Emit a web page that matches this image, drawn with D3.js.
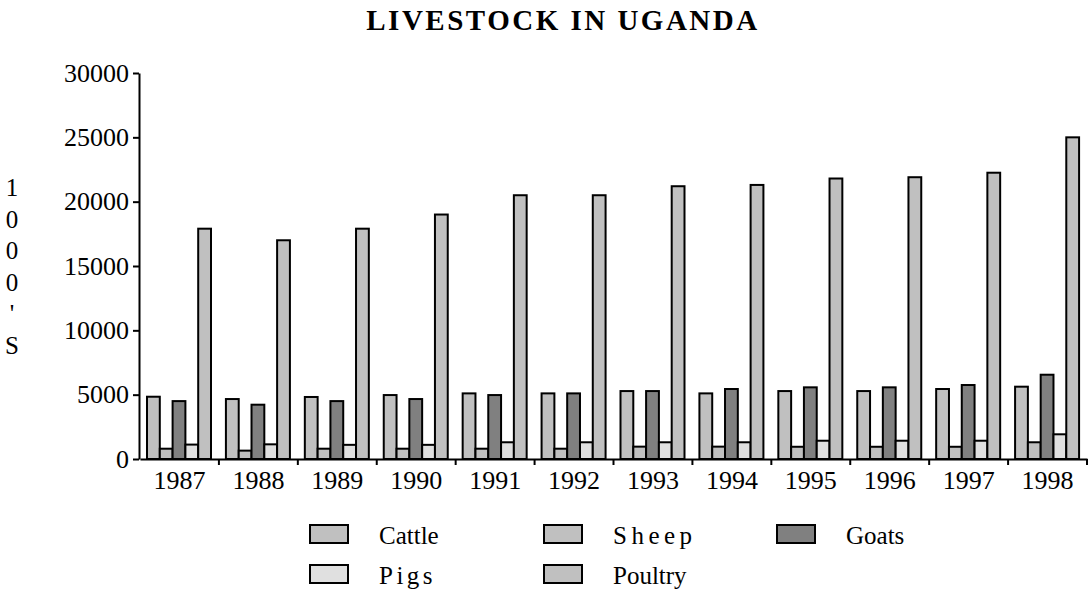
<!DOCTYPE html>
<html>
<head>
<meta charset="utf-8">
<script src="https://cdn.jsdelivr.net/npm/d3@7"></script>
<style>
body { margin: 0; background: #fff; }
text { font-family: "Liberation Serif", "Times New Roman", serif; fill: #000; }
</style>
</head>
<body>
<div class="chart"></div>
<script>
// Livestock numbers, in thousands.
var years = ["1987", "1988", "1989", "1990", "1991", "1992", "1993", "1994", "1995", "1996", "1997", "1998"];
var seriesNames = ["Cattle", "Sheep", "Goats", "Pigs", "Poultry"];
var cattle  = [4840, 4660, 4820, 4970, 5100, 5100, 5280, 5100, 5280, 5280, 5440, 5620];
var sheep   = [800, 650, 800, 800, 800, 800, 960, 960, 950, 950, 950, 1300];
var goats   = [4500, 4220, 4500, 4660, 4970, 5100, 5280, 5440, 5570, 5570, 5750, 6550];
var pigs    = [1120, 1140, 1100, 1100, 1300, 1300, 1300, 1300, 1420, 1420, 1420, 1920];
var poultry = [17900, 17000, 17900, 19000, 20500, 20500, 21200, 21300, 21800, 21900, 22250, 25000];
var yTicks = [0, 5000, 10000, 15000, 20000, 25000, 30000];
var colors = ["#c0c0c0", "#c0c0c0", "#808080", "#e0e0e0", "#c0c0c0"];

var width = 1092, height = 592;
var svg = d3.select(".chart").append("svg")
    .attr("width", width)
    .attr("height", height);

// Title
svg.append("text")
    .attr("x", 563).attr("y", 30)
    .attr("text-anchor", "middle")
    .style("font-size", "29px")
    .style("font-weight", "bold")
    .style("letter-spacing", "2.5px")
    .text("LIVESTOCK IN UGANDA");

// Scales
var x0 = d3.scaleBand().domain(years).range([140, 1087]).padding(0);
var x1 = d3.scaleBand().domain(seriesNames).range([7, 71]).padding(0);
var y = d3.scaleLinear().domain([0, 30000]).range([459, 73]);

var allSeries = [cattle, sheep, goats, pigs, poultry];
var rows = [];
years.forEach(function(yr, i) {
    seriesNames.forEach(function(s, j) {
        rows.push({ year: yr, name: s, value: allSeries[j][i], color: colors[j] });
    });
});

// Bars
svg.append("g").selectAll("rect")
    .data(rows)
    .enter().append("rect")
    .attr("x", function(d) { return x0(d.year) + x1(d.name); })
    .attr("y", function(d) { return y(d.value); })
    .attr("width", x1.bandwidth())
    .attr("height", function(d) { return y(0) - y(d.value); })
    .attr("fill", function(d) { return d.color; })
    .attr("stroke", "#000")
    .attr("stroke-width", 2);

// Y axis
var yAxis = svg.append("g")
    .attr("transform", "translate(139,0)")
    .call(d3.axisLeft(y).tickValues(yTicks).tickSize(6).tickSizeOuter(0).tickPadding(4).tickFormat(d3.format("d")));
yAxis.attr("font-family", null);
yAxis.selectAll("text").style("font-size", "26px");
yAxis.selectAll("line, path").attr("stroke", "#000").attr("stroke-width", 2);

// X axis: labels at centres, ticks at group boundaries
var xAxis = svg.append("g")
    .attr("transform", "translate(0,459)")
    .call(d3.axisBottom(x0).tickSize(0).tickSizeOuter(0).tickPadding(12));
xAxis.attr("font-family", null);
xAxis.selectAll("text").style("font-size", "26px");
xAxis.select(".domain").attr("stroke", "#000").attr("stroke-width", 2);
xAxis.selectAll(".boundary")
    .data(years)
    .enter().append("line")
    .attr("class", "boundary")
    .attr("x1", function(d) { return x0(d) + x0.bandwidth(); })
    .attr("x2", function(d) { return x0(d) + x0.bandwidth(); })
    .attr("y1", 0).attr("y2", 6)
    .attr("stroke", "#000").attr("stroke-width", 2);

// Y label, one character per line
var yLabel = ["1", "0", "0", "0", "'", "S"];
svg.append("g").selectAll("text")
    .data(yLabel)
    .enter().append("text")
    .attr("x", 12)
    .attr("y", function(d, i) { return 196 + i * 31.5; })
    .attr("text-anchor", "middle")
    .style("font-size", "25px")
    .text(function(d) { return d; });

// Legend
var legendX = [310, 544, 777, 310, 544];
var legendY = [525, 525, 525, 565, 565];
var legendSpacing = ["0px", "4.5px", "0px", "3.5px", "0px"];
var legend = svg.append("g").selectAll("g")
    .data(seriesNames)
    .enter().append("g")
    .attr("transform", function(d, i) { return "translate(" + legendX[i] + "," + legendY[i] + ")"; });
legend.append("rect")
    .attr("width", 38).attr("height", 18)
    .attr("fill", function(d, i) { return colors[i]; })
    .attr("stroke", "#000").attr("stroke-width", 2);
legend.append("text")
    .attr("x", 69).attr("y", 19)
    .style("font-size", "25px")
    .style("letter-spacing", function(d, i) { return legendSpacing[i]; })
    .text(function(d) { return d; });
</script>
</body>
</html>
